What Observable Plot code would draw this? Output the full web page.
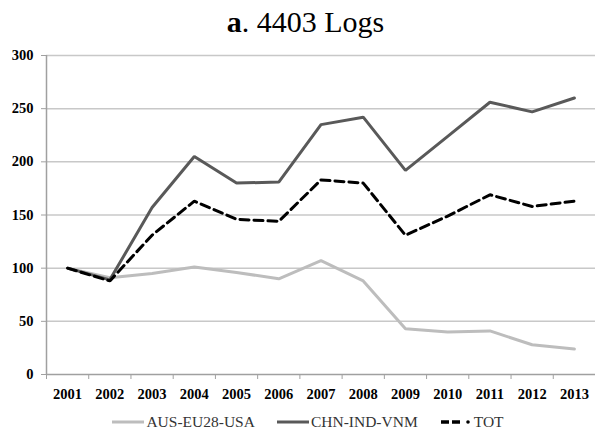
<!DOCTYPE html>
<html><head><meta charset="utf-8">
<script src="https://cdn.jsdelivr.net/npm/d3@7"></script>
<script src="https://cdn.jsdelivr.net/npm/@observablehq/plot@0.6"></script>
<style>
body{margin:0;background:#fff;font-family:"Liberation Serif",serif;width:595px;height:434px;position:relative;overflow:hidden}
#title{position:absolute;left:16px;right:0;top:5px;text-align:center;font-size:30px;line-height:34px;color:#000;font-family:"Liberation Serif",serif}
#chart{position:absolute;left:0;top:44px}
#chart svg, #chart svg text{font-family:"Liberation Serif",serif !important}
#legend{position:absolute;left:21px;right:0;top:412px;display:flex;justify-content:center;align-items:center;font-size:15.5px;line-height:20px;color:#333;font-family:"Liberation Serif",serif}
.item{display:flex;align-items:center;margin:0 11px}
.item svg{margin-right:2px}
</style></head>
<body>
<div id="title"><b>a</b>. 4403 Logs</div>
<div id="chart"></div>
<div id="legend"></div>
<script>
const years = [2001,2002,2003,2004,2005,2006,2007,2008,2009,2010,2011,2012,2013];
const seriesNames = ["AUS-EU28-USA","CHN-IND-VNM","TOT"];
const ausEuUsa = [100,91,95,101,96,90,107,88,43,40,41,28,24];
const chnIndVnm = [100,89,157,205,180,181,235,242,192,224,256,247,260];
const tot = [100,88,131,163,146,144,183,180,131,149,169,158,163];
const yTicks = [0,50,100,150,200,250,300];

const colors = {"AUS-EU28-USA":"#bdbdbd","CHN-IND-VNM":"#595959","TOT":"#000"};
const dashes = {"AUS-EU28-USA":null,"CHN-IND-VNM":null,"TOT":"9,5"};
const values = [ausEuUsa, chnIndVnm, tot];

const data = [];
seriesNames.forEach((s,i)=>years.forEach((y,j)=>data.push({series:s,year:y,value:values[i][j]})));
const bounds = years.map(y=>y-0.5).concat([years[years.length-1]+0.5]);

const font = '"Liberation Serif", serif';
const plot = Plot.plot({
  width:595, height:360,
  marginTop:11, marginBottom:30, marginLeft:46, marginRight:0,
  style:{fontFamily:font, fontSize:"14.5px", color:"#000", background:"#fff"},
  x:{type:"linear", domain:[bounds[0], bounds[bounds.length-1]]},
  y:{domain:[0,300]},
  marks:[
    Plot.gridY(yTicks.filter(d=>d>0), {stroke:"#c8c8c8", strokeOpacity:1, strokeWidth:1.5}),
    Plot.ruleY([0], {stroke:"#a0a0a0", strokeWidth:1.5}),
    Plot.ruleX([bounds[0]], {stroke:"#a0a0a0", strokeWidth:1.5}),
    Plot.axisY({ticks:yTicks, tickSize:5, tickPadding:8, stroke:"#a0a0a0", fontWeight:"bold", fontFamily:font, fontSize:14.5, label:null}),
    Plot.axisX({ticks:bounds, tickSize:5, tickFormat:()=>"" , stroke:"#a0a0a0", label:null}),
    Plot.axisX({ticks:years, tickSize:0, tickPadding:14, tickFormat:d=>String(d), fontWeight:"bold", fontFamily:font, fontSize:14.5, label:null}),
    ...seriesNames.map(s=>Plot.line(data.filter(d=>d.series===s), {x:"year", y:"value", stroke:colors[s], strokeWidth:3, strokeDasharray:dashes[s], strokeLinejoin:"miter"}))
  ]
});
document.getElementById("chart").append(plot);

const leg = document.getElementById("legend");
seriesNames.forEach(s=>{
  const it = document.createElement("div"); it.className="item";
  const sw = dashes[s]
    ? `<line x1="1" y1="5" x2="23" y2="5" stroke="${colors[s]}" stroke-width="3.5" stroke-dasharray="8,3"/><circle cx="28" cy="5" r="1.8" fill="${colors[s]}"/>`
    : `<line x1="0" y1="5" x2="32" y2="5" stroke="${colors[s]}" stroke-width="3"/>`;
  it.innerHTML = `<svg width="32" height="10">${sw}</svg><span>${s}</span>`;
  leg.append(it);
});
</script>
</body></html>
